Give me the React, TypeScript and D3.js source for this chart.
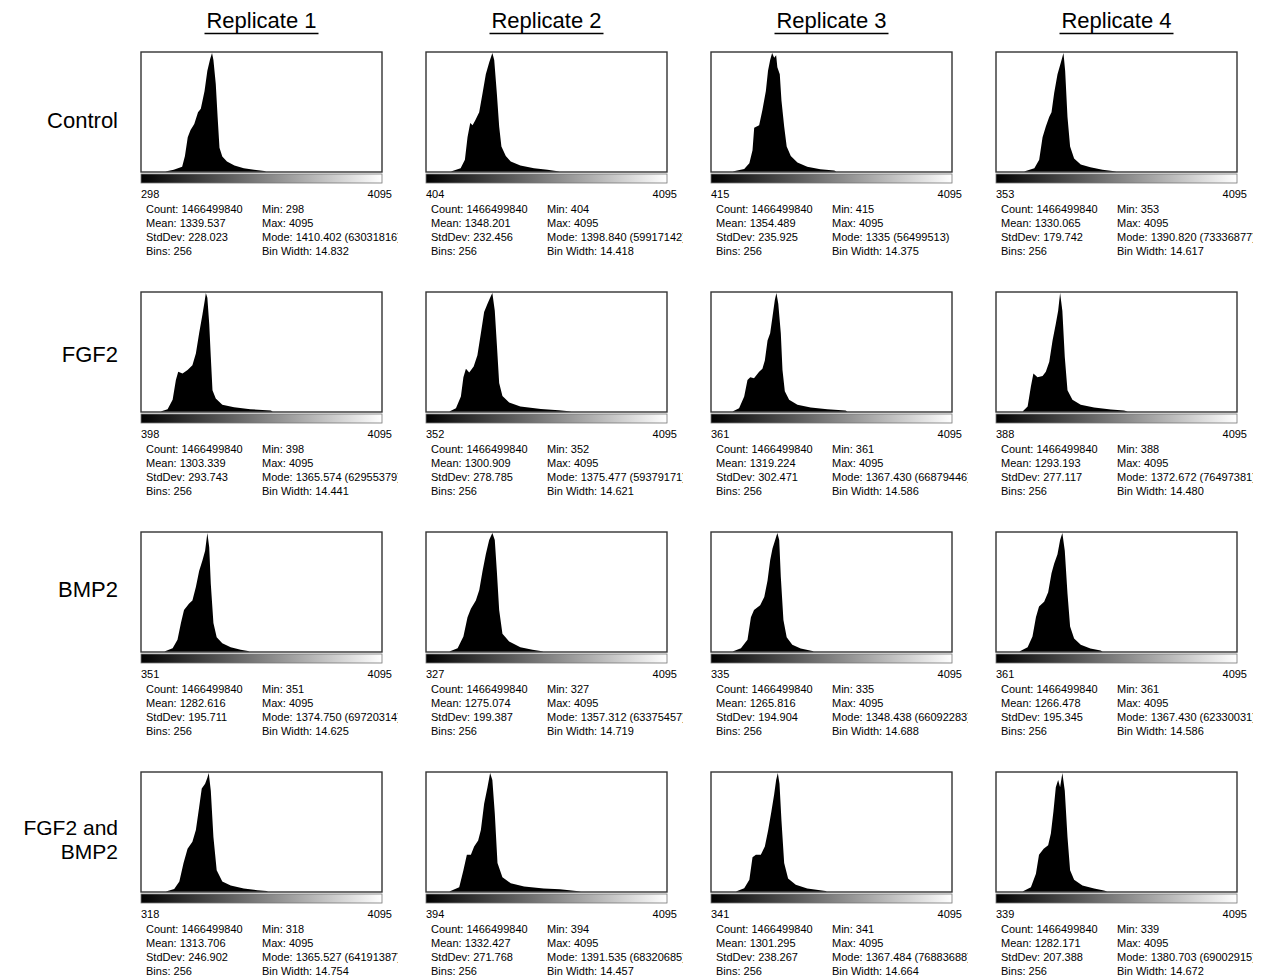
import React from "react";
import * as d3 from "d3";

const replicates = ["Replicate 1", "Replicate 2", "Replicate 3", "Replicate 4"];
const conditionLines = [["Control"], ["FGF2"], ["BMP2"], ["FGF2 and", "BMP2"]];

const pixelCount = "1466499840";
const maxValue = 4095;
const binCount = 256;

const minVals = [
  [298, 404, 415, 353],
  [398, 352, 361, 388],
  [351, 327, 335, 361],
  [318, 394, 341, 339],
];
const means = [
  ["1339.537", "1348.201", "1354.489", "1330.065"],
  ["1303.339", "1300.909", "1319.224", "1293.193"],
  ["1282.616", "1275.074", "1265.816", "1266.478"],
  ["1313.706", "1332.427", "1301.295", "1282.171"],
];
const stdDevs = [
  ["228.023", "232.456", "235.925", "179.742"],
  ["293.743", "278.785", "302.471", "277.117"],
  ["195.711", "199.387", "194.904", "195.345"],
  ["246.902", "271.768", "238.267", "207.388"],
];
const modeVals = [
  ["1410.402", "1398.840", "1335", "1390.820"],
  ["1365.574", "1375.477", "1367.430", "1372.672"],
  ["1374.750", "1357.312", "1348.438", "1367.430"],
  ["1365.527", "1391.535", "1367.484", "1380.703"],
];
const modeCounts = [
  ["63031816", "59917142", "56499513", "73336877"],
  ["62955379", "59379171", "66879446", "76497381"],
  ["69720314", "63375457", "66092283", "62330031"],
  ["64191387", "68320685", "76883688", "69002915"],
];
const binWidths = [
  ["14.832", "14.418", "14.375", "14.617"],
  ["14.441", "14.621", "14.586", "14.480"],
  ["14.625", "14.719", "14.688", "14.586"],
  ["14.754", "14.457", "14.664", "14.672"],
];

// histogram outlines: [bin index (0-256), count as % of displayed max]
const controlHist = [
  [[25,0],[34,1.5],[43,4],[46,13],[49,29],[52,35],[56,40],[60,50],[63,53],[67,68],[70,85],[73,95],[75,100],[76.5,94],[79,74],[81,46],[83,20],[86,12.6],[91,8.4],[99,5],[109,2.8],[120,1.4],[131,0.5],[133,0]],
  [[25.6,0],[36,2.8],[40.6,10],[43.4,29],[46.3,41],[48.8,39],[51.6,43],[55.9,50],[59.5,66],[63,82],[66.6,92],[70,100],[72,94],[74.8,66],[77.3,38],[79.7,21],[84.4,13],[89.7,8.4],[100,5],[114.6,2.8],[129,1.4],[142,0]],
  [[22,0],[34.5,2.2],[40,7],[43.4,18],[45.2,37],[50.5,39],[54,52],[57.7,68],[60,85],[62.3,94],[64.4,100],[66.6,96],[68.7,98],[70,88],[72.6,82],[74.4,60],[77.3,38],[80,21],[84.4,13],[91.5,7.5],[102,4],[116,2],[131,0.8],[133,0]],
  [[29,0],[40,2.8],[45.2,10],[48.8,29],[52.3,38],[55.9,46],[58.4,50],[61.2,66],[64.8,82],[68.4,92],[71.2,100],[73,85],[75.5,46],[78.3,21],[82.6,11],[89.7,6],[100,3.6],[113,1.4],[128,0]],
];
const fgf2Hist = [
  [[20,0],[27.4,2],[32.8,10],[36.3,26.5],[38.8,33.5],[43.4,32],[48.8,35],[54,39],[57.7,49],[61.2,66],[64.8,82],[67.3,94],[68.4,100],[70,96],[72,74],[73.7,46],[75.5,18],[79,11],[86,5.6],[98.6,3.6],[116,2],[138,0.8],[140,0]],
  [[24,0],[31,2.8],[36.3,12.6],[39,29],[41.7,36],[45.2,33],[50,38],[54,47.5],[57.7,66],[61.2,84],[64.8,91],[67.6,96],[70,100],[72.6,85],[74.8,57],[77.3,24],[80.8,13],[88,7.5],[100,4.2],[122,2.2],[141,1.1],[155,0]],
  [[22,0],[29,2.8],[34.5,12.6],[38,26.5],[41,29],[45,28],[50.5,33.5],[54,36],[56.6,43],[59.5,60],[62.3,66],[64.8,80],[67.3,94],[69,100],[71,91],[73.7,66],[75.5,35],[78,17],[82.6,10],[91.5,5.6],[105.7,3.4],[123.5,2],[143,0.8],[145,0]],
  [[27.4,0],[32.8,4.2],[36.3,21],[39,32],[43.4,29],[48.8,30],[52.3,33.5],[56,42],[59.5,60],[63,74],[65.5,85],[67.6,100],[70,85],[72.6,46],[75.5,18],[80.8,10],[89.7,5.6],[104,3.4],[122,1.7],[136,0.8],[140,0]],
];
const bmp2Hist = [
  [[24,0],[32.8,2.8],[38,10],[41.7,24],[45,35],[50.5,40.5],[54,43],[57.7,54.5],[61.2,68],[64.8,77],[67.6,85],[70,100],[72,88],[73.7,57],[76.5,24],[80,12],[86,7],[95,3.6],[105.7,1.4],[113.5,0.5],[115,0]],
  [[24,0],[32.8,2.8],[39,12.6],[43.4,29],[47,36],[52.3,43],[56,52],[59.5,68],[63,82],[66.6,94],[70,100],[72.6,94],[74.8,68],[77.3,35],[80.8,15],[88,8.4],[100,3.6],[113,1.4],[125,0]],
  [[22,0],[31,2.8],[38,10],[41.7,29],[45,35],[51.6,39],[56,46],[59.5,60],[62.3,77],[64.8,87],[68.4,96],[70,100],[72,94],[73.7,63],[76.5,26.5],[80,12],[86,5.6],[95,2.5],[107.5,0.5],[109,0]],
  [[24,0],[32.8,3.6],[38,12.6],[41.7,29],[45,38],[50.5,42],[54.8,50],[58.4,66],[61.2,74],[64.8,82],[67.6,94],[70,100],[72.6,85],[75.5,49],[78.3,21],[82.6,11],[89.7,5.6],[100,2.5],[111,0.8],[113,0]],
];
const comboHist = [
  [[25.6,0],[34.5,2.2],[40,8.4],[44.5,24],[48.8,36],[54,42],[57.7,52],[61.2,71],[64,87],[67.6,91],[70,96],[71.5,100],[73.7,85],[76.5,46],[80,18],[86,8.4],[95,5],[109,2.5],[123.5,1.1],[133.5,0.5],[135,0]],
  [[24,0],[34.5,3.6],[39,18],[42.7,31],[47,31],[50.5,38],[54.8,43],[57.7,52],[61.2,74],[64.8,88],[67.6,100],[70,94],[72.6,66],[75.5,24],[80.8,12],[89.7,7],[104,4.2],[125,2.5],[142.4,2],[160,0.5],[165,0]],
  [[25.6,0],[34.5,2.8],[40,10],[43.4,29],[47,31],[52.3,31],[56.6,38],[60.2,52],[63.7,68],[66.6,82],[68.7,94],[70.5,100],[72.3,91],[74.4,60],[77.3,24],[81.5,11],[89.7,5.6],[102,2.5],[121.7,0.5],[123,0]],
  [[27.4,0],[36.3,3.6],[41.7,15],[45,31],[50,36],[54.8,39],[57.7,49],[60.5,68],[63,88],[65.5,94],[67.6,88],[70,100],[72.6,85],[75.5,46],[78.3,18],[82.6,10],[91.5,5],[104,2.5],[114.6,0.8],[118,0]],
];
const hists = [controlHist, fgf2Hist, bmp2Hist, comboHist];

// layout
const W = 1273;
const H = 978;
const BOX_X0 = 141;
const COL_STEP = 285;
const BOX_Y0 = 52;
const ROW_STEP = 240;
const BOX_W = 241;
const BOX_H = 120;
const labelBaselines = [[128], [362], [597], [835, 859]];
const FONT = "Arial, 'Liberation Sans', Helvetica, sans-serif";

function Panel({ r, c }: { r: number; c: number }) {
  const x0 = BOX_X0 + c * COL_STEP;
  const y0 = BOX_Y0 + r * ROW_STEP;
  const x = d3.scaleLinear().domain([0, binCount]).range([x0 + 1, x0 + BOX_W - 1]);
  const y = d3.scaleLinear().domain([0, 100]).range([y0 + BOX_H - 0.5, y0 + 1]);
  const area = d3
    .area<number[]>()
    .x((d) => x(d[0]))
    .y0(y(0))
    .y1((d) => y(d[1]))
    .curve(d3.curveLinear);
  const data = hists[r][c];
  const clipId = `clip-${r}-${c}`;
  const sx1 = x0 + 5;
  const sx2 = x0 + 121;
  const sy = y0 + 161;
  const lh = 14;
  const statStyle = { fontFamily: FONT, fontSize: 11, fill: "#000" } as const;
  return (
    <g>
      <defs>
        <clipPath id={clipId}>
          <rect x={x0 - 5} y={y0 - 5} width={BOX_W + 21} height={230} />
        </clipPath>
      </defs>
      <rect x={x0} y={y0} width={BOX_W} height={BOX_H} fill="#fff" stroke="#333" strokeWidth={1.4} />
      <path d={area(data) || ""} fill="#000" />
      <rect x={x0} y={y0 + 122} width={BOX_W} height={9} fill="url(#lut)" stroke="#777" strokeWidth={0.8} />
      <text x={x0} y={y0 + 146} style={statStyle}>{minVals[r][c]}</text>
      <text x={x0 + BOX_W + 10} y={y0 + 146} textAnchor="end" style={statStyle}>{maxValue}</text>
      <g clipPath={`url(#${clipId})`}>
        <text x={sx1} y={sy} style={statStyle}>{`Count: ${pixelCount}`}</text>
        <text x={sx1} y={sy + lh} style={statStyle}>{`Mean: ${means[r][c]}`}</text>
        <text x={sx1} y={sy + 2 * lh} style={statStyle}>{`StdDev: ${stdDevs[r][c]}`}</text>
        <text x={sx1} y={sy + 3 * lh} style={statStyle}>{`Bins: ${binCount}`}</text>
        <text x={sx2} y={sy} style={statStyle}>{`Min: ${minVals[r][c]}`}</text>
        <text x={sx2} y={sy + lh} style={statStyle}>{`Max: ${maxValue}`}</text>
        <text x={sx2} y={sy + 2 * lh} style={statStyle}>{`Mode: ${modeVals[r][c]} (${modeCounts[r][c]})`}</text>
        <text x={sx2} y={sy + 3 * lh} style={statStyle}>{`Bin Width: ${binWidths[r][c]}`}</text>
      </g>
    </g>
  );
}

export default function App() {
  return (
    <svg
      width={W}
      height={H}
      viewBox={`0 0 ${W} ${H}`}
      style={{ position: "absolute", left: 0, top: 0, background: "#fff" }}
    >
      <defs>
        <linearGradient id="lut" x1="0" x2="1" y1="0" y2="0">
          <stop offset="0" stopColor="#000" />
          <stop offset="1" stopColor="#fff" />
        </linearGradient>
      </defs>
      <rect x={0} y={0} width={W} height={H} fill="#fff" />
      {replicates.map((rep, c) => {
        const cx = BOX_X0 + c * COL_STEP + BOX_W / 2;
        return (
          <g key={rep}>
            <text x={cx} y={28} textAnchor="middle" style={{ fontFamily: FONT, fontSize: 22 }}>{rep}</text>
            <line x1={cx - 57} x2={cx + 57} y1={33.5} y2={33.5} stroke="#000" strokeWidth={1.5} />
          </g>
        );
      })}
      {conditionLines.map((lines, r) => (
        <g key={r}>
          {lines.map((ln, i) => (
            <text key={i} x={118} y={labelBaselines[r][i]} textAnchor="end" style={{ fontFamily: FONT, fontSize: r === 3 ? 21 : 22 }}>{ln}</text>
          ))}
        </g>
      ))}
      {hists.map((row, r) => row.map((_, c) => <Panel key={`${r}-${c}`} r={r} c={c} />))}
    </svg>
  );
}
